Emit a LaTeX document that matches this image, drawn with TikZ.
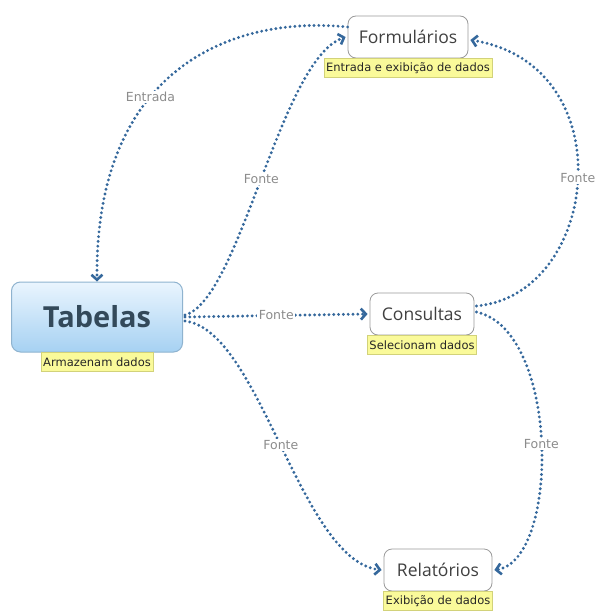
\documentclass[tikz,border=0pt]{standalone}
\usepackage{fontspec}
\setmainfont{Open Sans}
\newfontfamily\labelfont{DejaVu Sans}
\usetikzlibrary{arrows.meta}
\definecolor{linkblue}{HTML}{35689C}
\definecolor{notefill}{HTML}{FAFA9A}
\definecolor{notedraw}{HTML}{D2D27A}
\definecolor{boxdraw}{HTML}{9A9A9A}
\definecolor{tabtext}{HTML}{33495A}
\definecolor{tabtop}{HTML}{EAF5FE}
\definecolor{tabbottom}{HTML}{A6D1F2}
\definecolor{tabdraw}{HTML}{8FB3CF}
\tikzset{
  topic/.style={draw=boxdraw, line width=0.8pt, fill=white, rounded corners=8pt,
    minimum height=42pt, inner sep=0pt, text=black!75,
    font=\fontsize{17.5}{20}\selectfont},
  maintopic/.style={draw=tabdraw, line width=1pt, rounded corners=9pt,
    top color=tabtop, bottom color=tabbottom, minimum width=171pt,
    minimum height=70pt, text=tabtext,
    font=\fontsize{29}{32}\selectfont\bfseries},
  note/.style={draw=notedraw, line width=0.6pt, fill=notefill, inner xsep=2pt,
    minimum height=19pt, inner ysep=0pt, text=black!85,
    font=\labelfont\fontsize{11.5}{13}\selectfont},
  link/.style={draw=linkblue, line width=3.2pt, line cap=round,
    dash pattern=on 0pt off 4.8pt,
    -{Straight Barb[length=5pt,width=11pt,line width=2.6pt]}},
  linklabel/.style={fill=white, inner sep=1.5pt, text=black!45,
    font=\labelfont\fontsize{12.5}{14}\selectfont},
}
\begin{document}
\begin{tikzpicture}[x=1pt,y=-1pt]
\useasboundingbox[fill=white] (0,0) rectangle (597,613);

% topics
\node[maintopic] (T) at (97,317) {Tabelas};
\node[topic, minimum width=120pt] (F) at (408,37) {Formulários};
\node[topic, minimum width=104pt] (C) at (422,314) {Consultas};
\node[topic, minimum width=108pt] (R) at (438,570) {Relatórios};

% notes under the topics
\node[note, anchor=north] (Tn) at (97,352) {Armazenam dados};
\node[note, anchor=north] (Fn) at (F.south) {Entrada e exibição de dados};
\node[note, anchor=north] (Cn) at (C.south) {Selecionam dados};
\node[note, anchor=north] (Rn) at (R.south) {Exibição de dados};

% relationships
\draw[link] ([yshift=10pt]F.west) .. controls (230,15) and (95,70) .. (T.north)
  node[linklabel, pos=0.6] {Entrada};
\draw[link] ([xshift=2pt,yshift=2pt]T.east) .. controls (240,300) and (280,60) .. ([xshift=-2pt]F.west)
  node[linklabel, pos=0.5] {Fonte};
\draw[link] ([xshift=2pt]T.east) -- ([xshift=-2pt]C.west)
  node[linklabel, pos=0.5] {Fonte};
\draw[link] ([xshift=2pt,yshift=8pt]C.east) .. controls (600,295) and (625,65) .. ([xshift=2pt,yshift=-3pt]F.east)
  node[linklabel, pos=0.5] {Fonte};
\draw[link] ([xshift=2pt,yshift=2pt]C.east) .. controls (560,330) and (560,560) .. ([xshift=2pt]R.east)
  node[linklabel, pos=0.5] {Fonte};
\draw[link] ([xshift=2pt,yshift=-4pt]T.east) .. controls (260,330) and (300,560) .. ([xshift=-2pt]R.west)
  node[linklabel, pos=0.5] {Fonte};
\end{tikzpicture}
\end{document}
